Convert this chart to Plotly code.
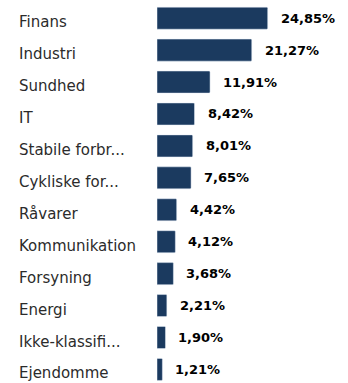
import plotly.graph_objects as go

# Sector weights (%)
sectors = ["Finans", "Industri", "Sundhed", "IT", "Stabile forbr...", "Cykliske for...",
           "Råvarer", "Kommunikation", "Forsyning", "Energi", "Ikke-klassifi...", "Ejendomme"]
weights = [24.85, 21.27, 11.91, 8.42, 8.01, 7.65, 4.42, 4.12, 3.68, 2.21, 1.90, 1.21]

BAR_COLOR = "#1b3a5f"

fig = go.Figure(
    go.Bar(
        x=weights,
        y=sectors,
        orientation="h",
        marker=dict(color=BAR_COLOR, cornerradius=1),
        width=0.69,
        hoverinfo="skip",
    )
)

annotations = []
for name, w in zip(sectors, weights):
    # sector name, left aligned at the chart's left edge
    annotations.append(dict(
        x=0, xref="paper", y=name, yref="y",
        text=name, showarrow=False, xanchor="left", yanchor="middle",
        xshift=-140, yshift=-4,
        font=dict(family="DejaVu Sans", size=15, color="#2b2b2b"),
    ))
    # value label just right of the bar
    annotations.append(dict(
        x=w, xref="x", y=name, yref="y",
        text=f"{w:.2f}".replace(".", ",") + "%", showarrow=False,
        xanchor="left", yanchor="middle", xshift=11,
        font=dict(family="DejaVu Sans", size=13, color="#000000", weight="bold"),
    ))

fig.update_layout(
    width=348, height=383,
    margin=dict(l=157, r=0, t=0, b=0),
    paper_bgcolor="white", plot_bgcolor="white",
    showlegend=False,
    xaxis=dict(range=[0, 42.87], visible=False, fixedrange=True),
    yaxis=dict(categoryorder="array", categoryarray=sectors,
               range=[11.425, -0.570], showticklabels=False,
               showgrid=False, zeroline=False, fixedrange=True),
    annotations=annotations,
)

fig.write_html("out.html", config={"displayModeBar": False})
